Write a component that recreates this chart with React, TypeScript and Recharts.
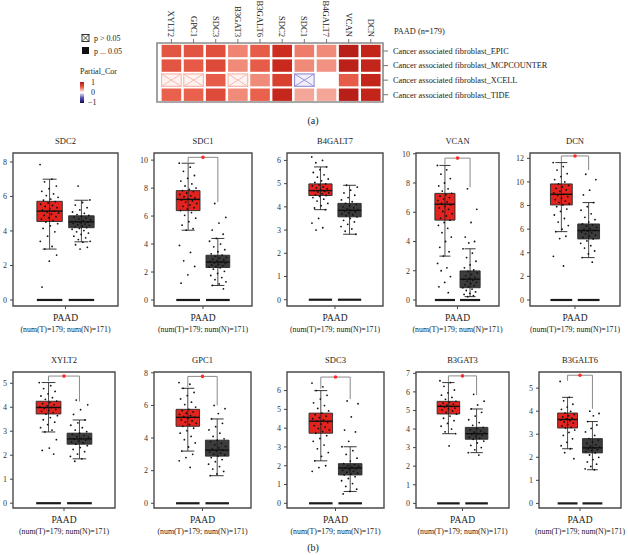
import {
  ComposedChart,
  ScatterChart,
  Scatter,
  XAxis,
  YAxis,
  ReferenceArea,
  ReferenceLine,
  ReferenceDot,
} from "recharts";

const FONT = '"Liberation Serif", "Times New Roman", serif';

// ---------- (a) partial correlation heatmap ----------
const hmGenes = ["XYLT2", "GPC1", "SDC3", "B3GAT3", "B3GALT6", "SDC2", "SDC1", "B4GALT7", "VCAN", "DCN"];
const hmRows = [
  "Cancer associated fibroblast_EPIC",
  "Cancer associated fibroblast_MCPCOUNTER",
  "Cancer associated fibroblast_XCELL",
  "Cancer associated fibroblast_TIDE",
];
const corEPIC = [0.55, 0.55, 0.58, 0.4, 0.52, 0.74, 0.42, 0.38, 0.86, 0.8];
const corMCP = [0.55, 0.53, 0.6, 0.38, 0.52, 0.76, 0.38, 0.36, 0.84, 0.8];
const corXCELL = [0.12, 0.12, 0.52, 0.1, 0.38, 0.65, -0.08, 0.0, 0.52, 0.8];
const corTIDE = [0.5, 0.5, 0.6, 0.38, 0.5, 0.78, 0.3, 0.3, 0.86, 0.8];
// p > 0.05 cells (XCELL row only)
const nsXCELL = [true, true, false, true, false, false, true, false, false, false];

// ---------- (b) expression boxplots ----------
const genes = ["SDC2", "SDC1", "B4GALT7", "VCAN", "DCN", "XYLT2", "GPC1", "SDC3", "B3GAT3", "B3GALT6"];
// [lower whisker, Q1, median, Q3, upper whisker]
const tumorBox = [
  [2.95, 4.55, 5.15, 5.72, 7.0],
  [4.99, 6.39, 7.19, 7.82, 9.78],
  [3.88, 4.49, 4.7, 4.99, 5.72],
  [3.0, 5.46, 6.55, 7.29, 9.2],
  [5.79, 8.05, 8.95, 9.83, 11.64],
  [2.97, 3.72, 3.99, 4.25, 5.03],
  [3.2, 4.72, 5.27, 5.76, 7.05],
  [2.26, 3.73, 4.37, 4.8, 6.0],
  [3.75, 4.81, 5.22, 5.49, 6.5],
  [2.37, 3.27, 3.64, 3.92, 4.6],
];
const normalBox = [
  [3.37, 4.19, 4.53, 4.88, 5.78],
  [1.04, 2.32, 2.71, 3.2, 4.4],
  [2.82, 3.57, 3.85, 4.15, 4.93],
  [0.23, 0.84, 1.42, 1.99, 3.5],
  [3.59, 5.17, 5.88, 6.44, 8.25],
  [1.85, 2.46, 2.68, 2.92, 3.47],
  [1.69, 2.89, 3.26, 3.87, 5.17],
  [0.63, 1.51, 1.88, 2.11, 3.01],
  [2.73, 3.45, 3.75, 4.09, 5.08],
  [1.46, 2.19, 2.41, 2.81, 3.55],
];
const yTicks = [
  [0, 2, 4, 6, 8],
  [0, 2, 4, 6, 8, 10],
  [0, 1, 2, 3, 4, 5, 6],
  [0, 2, 4, 6, 8, 10],
  [0, 2, 4, 6, 8, 10, 12],
  [0, 1, 2, 3, 4, 5],
  [0, 2, 4, 6, 8],
  [0, 1, 2, 3, 4, 5, 6],
  [0, 1, 2, 3, 4, 5, 6, 7],
  [0, 1, 2, 3, 4, 5],
];
// significance bracket: [bar level, tumor leg end, normal leg end]
const sigBracket: (number[] | null)[] = [
  null,
  [10.2, 9.85, 7.0],
  null,
  [9.7, 9.25, 7.7],
  [12.2, 11.7, 11.0],
  [5.3, 5.08, 4.24],
  [7.78, 7.1, 6.0],
  [6.72, 6.1, 5.55],
  [6.86, 6.55, 5.83],
  [5.56, 5.32, 4.1],
];
const tumorDots = [
  [7.85, 7.0, 6.85, 6.6, 6.45, 6.3, 6.15, 6.05, 5.95, 5.85, 5.78, 5.7, 5.62, 5.55, 5.48, 5.42, 5.35, 5.28, 5.2, 5.15, 5.1, 5.03, 4.97, 4.9, 4.83, 4.76, 4.68, 4.6, 4.52, 4.42, 4.3, 4.15, 3.95, 3.7, 3.4, 3.1, 2.95, 2.6, 2.25, 0.75],
  [9.78, 9.5, 9.2, 8.9, 8.7, 8.5, 8.3, 8.15, 8.0, 7.9, 7.82, 7.75, 7.65, 7.55, 7.45, 7.38, 7.3, 7.22, 7.15, 7.08, 7.0, 6.9, 6.8, 6.7, 6.6, 6.5, 6.4, 6.25, 6.05, 5.85, 5.6, 5.35, 5.1, 4.99, 3.9, 3.4, 2.8, 2.4, 1.8, 1.2],
  [6.15, 6.0, 5.9, 5.72, 5.6, 5.48, 5.38, 5.28, 5.2, 5.12, 5.05, 4.99, 4.95, 4.9, 4.86, 4.82, 4.78, 4.74, 4.7, 4.67, 4.64, 4.6, 4.56, 4.52, 4.49, 4.45, 4.4, 4.33, 4.25, 4.15, 4.05, 3.95, 3.88, 3.5, 3.3, 3.1, 3.0],
  [9.2, 8.9, 8.6, 8.3, 8.0, 7.8, 7.6, 7.45, 7.29, 7.2, 7.1, 7.0, 6.9, 6.8, 6.7, 6.6, 6.5, 6.4, 6.3, 6.2, 6.05, 5.9, 5.75, 5.6, 5.46, 5.3, 5.1, 4.9, 4.6, 4.3, 4.0, 3.6, 3.3, 3.0, 2.5, 2.2, 2.0, 1.6, 1.2, 0.9, 0.5],
  [11.64, 11.3, 11.0, 10.7, 10.45, 10.2, 10.0, 9.83, 9.7, 9.58, 9.45, 9.32, 9.2, 9.08, 8.95, 8.85, 8.75, 8.62, 8.5, 8.38, 8.25, 8.15, 8.05, 7.9, 7.7, 7.5, 7.2, 6.9, 6.6, 6.3, 6.0, 5.79, 5.4, 5.2, 3.7, 2.88],
  [5.03, 4.9, 4.78, 4.66, 4.56, 4.47, 4.4, 4.33, 4.25, 4.2, 4.15, 4.1, 4.06, 4.02, 3.99, 3.95, 3.91, 3.87, 3.83, 3.78, 3.72, 3.65, 3.57, 3.48, 3.38, 3.28, 3.15, 3.05, 2.97, 2.65, 2.3, 2.2, 2.05],
  [7.4, 7.3, 7.05, 6.8, 6.6, 6.4, 6.2, 6.05, 5.9, 5.76, 5.68, 5.6, 5.52, 5.45, 5.38, 5.32, 5.27, 5.2, 5.12, 5.05, 4.98, 4.9, 4.82, 4.72, 4.6, 4.45, 4.3, 4.1, 3.9, 3.7, 3.45, 3.2, 3.0, 2.8, 2.6, 2.2],
  [6.4, 6.2, 6.0, 5.75, 5.55, 5.35, 5.2, 5.05, 4.92, 4.8, 4.72, 4.64, 4.56, 4.5, 4.43, 4.37, 4.3, 4.22, 4.14, 4.06, 3.98, 3.9, 3.82, 3.73, 3.6, 3.45, 3.3, 3.1, 2.9, 2.7, 2.5, 2.26, 2.0, 1.9, 1.7],
  [6.6, 6.5, 6.3, 6.1, 5.95, 5.82, 5.7, 5.6, 5.49, 5.44, 5.39, 5.34, 5.29, 5.25, 5.22, 5.18, 5.13, 5.08, 5.03, 4.97, 4.9, 4.81, 4.7, 4.58, 4.45, 4.3, 4.15, 4.0, 3.85, 3.75, 3.09],
  [5.29, 4.6, 4.45, 4.3, 4.18, 4.08, 3.99, 3.92, 3.86, 3.8, 3.75, 3.7, 3.66, 3.62, 3.58, 3.53, 3.48, 3.42, 3.36, 3.3, 3.27, 3.18, 3.08, 2.95, 2.8, 2.65, 2.5, 2.37, 2.2, 1.94],
];
const normalDots = [
  [6.6, 5.8, 5.65, 5.5, 5.35, 5.22, 5.1, 5.02, 4.95, 4.9, 4.85, 4.8, 4.75, 4.7, 4.65, 4.6, 4.56, 4.52, 4.48, 4.44, 4.4, 4.36, 4.32, 4.28, 4.24, 4.2, 4.15, 4.1, 4.02, 3.95, 3.88, 3.8, 3.7, 3.6, 3.5, 3.4, 3.35, 3.2, 3.05, 2.95],
  [6.9, 5.9, 5.5, 5.0, 4.7, 4.4, 4.2, 4.0, 3.8, 3.6, 3.45, 3.3, 3.2, 3.12, 3.05, 2.98, 2.92, 2.86, 2.8, 2.75, 2.7, 2.65, 2.6, 2.55, 2.5, 2.45, 2.4, 2.35, 2.3, 2.2, 2.05, 1.9, 1.75, 1.6, 1.45, 1.3, 1.15, 1.04, 0.8],
  [4.93, 4.85, 4.72, 4.6, 4.5, 4.4, 4.3, 4.22, 4.15, 4.1, 4.05, 4.0, 3.96, 3.92, 3.88, 3.85, 3.82, 3.78, 3.74, 3.7, 3.66, 3.62, 3.57, 3.5, 3.42, 3.35, 3.25, 3.15, 3.05, 2.95, 2.82],
  [7.6, 6.2, 5.3, 4.3, 4.0, 3.9, 3.5, 3.2, 2.9, 2.65, 2.4, 2.2, 2.05, 1.95, 1.85, 1.75, 1.65, 1.55, 1.48, 1.42, 1.35, 1.28, 1.2, 1.12, 1.05, 0.98, 0.9, 0.84, 0.75, 0.65, 0.55, 0.45, 0.38, 0.3, 0.23],
  [10.65, 10.2, 9.3, 8.9, 8.25, 7.9, 7.6, 7.3, 7.0, 6.8, 6.6, 6.44, 6.35, 6.25, 6.15, 6.05, 5.97, 5.9, 5.83, 5.76, 5.68, 5.6, 5.5, 5.4, 5.3, 5.17, 5.0, 4.8, 4.6, 4.4, 4.15, 3.9, 3.59, 3.2],
  [4.3, 4.1, 3.9, 3.7, 3.47, 3.35, 3.25, 3.15, 3.05, 2.98, 2.92, 2.87, 2.82, 2.78, 2.74, 2.7, 2.67, 2.63, 2.59, 2.55, 2.51, 2.46, 2.4, 2.32, 2.24, 2.15, 2.05, 1.95, 1.85, 1.75],
  [6.0, 5.8, 5.5, 5.17, 4.9, 4.7, 4.5, 4.3, 4.1, 3.95, 3.87, 3.78, 3.68, 3.58, 3.48, 3.4, 3.33, 3.26, 3.2, 3.14, 3.08, 3.02, 2.96, 2.89, 2.8, 2.68, 2.55, 2.4, 2.25, 2.1, 1.95, 1.8, 1.69],
  [5.45, 5.3, 4.6, 3.9, 3.8, 3.3, 3.01, 2.8, 2.6, 2.4, 2.25, 2.11, 2.06, 2.01, 1.97, 1.93, 1.88, 1.84, 1.8, 1.75, 1.7, 1.65, 1.6, 1.55, 1.51, 1.42, 1.32, 1.2, 1.05, 0.9, 0.75, 0.63, 0.5],
  [5.87, 5.5, 5.3, 5.08, 4.9, 4.7, 4.5, 4.35, 4.2, 4.09, 4.02, 3.95, 3.89, 3.83, 3.78, 3.75, 3.71, 3.66, 3.61, 3.56, 3.5, 3.45, 3.35, 3.25, 3.12, 3.0, 2.88, 2.73, 2.6],
  [4.0, 3.9, 3.8, 3.55, 3.4, 3.25, 3.1, 2.95, 2.81, 2.74, 2.67, 2.6, 2.54, 2.48, 2.44, 2.41, 2.37, 2.33, 2.29, 2.25, 2.19, 2.1, 2.0, 1.9, 1.8, 1.7, 1.6, 1.5, 1.46],
];

// plot-frame placement of each panel on the page, and its y range
const frames = [
  { x: 13, y: 153, w: 105, h: 153, lo: -0.35, hi: 8.52 },
  { x: 154, y: 153, w: 98, h: 153, lo: -0.43, hi: 10.51 },
  { x: 287, y: 153, w: 96, h: 153, lo: -0.27, hi: 6.32 },
  { x: 416, y: 153, w: 83, h: 153, lo: -0.41, hi: 10.05 },
  { x: 530, y: 153, w: 90, h: 153, lo: -0.51, hi: 12.45 },
  { x: 13, y: 372, w: 102, h: 136, lo: -0.2, hi: 5.47 },
  { x: 154, y: 372, w: 97, h: 136, lo: -0.29, hi: 8.05 },
  { x: 287, y: 372, w: 97, h: 136, lo: -0.25, hi: 6.99 },
  { x: 416, y: 372, w: 93, h: 136, lo: -0.25, hi: 7.07 },
  { x: 539, y: 372, w: 82, h: 136, lo: -0.2, hi: 5.7 },
];

const X_DOMAIN: [number, number] = [-0.15, 3.15];
const HALF = 0.4;
const jitter = (k: number) => (((k * 0.618034) % 1) - 0.5) * 0.6;

function corColor(v: number) {
  const pos: [number, number[]][] = [
    [0, [255, 255, 255]],
    [0.25, [247, 185, 172]],
    [0.5, [233, 96, 76]],
    [0.75, [204, 42, 30]],
    [1, [158, 16, 16]],
  ];
  const neg: [number, number[]][] = [
    [0, [255, 255, 255]],
    [0.5, [120, 120, 200]],
    [1, [20, 10, 90]],
  ];
  const stops = v >= 0 ? pos : neg;
  const a = Math.min(1, Math.abs(v));
  for (let i = 1; i < stops.length; i++) {
    if (a <= stops[i][0]) {
      const [t0, c0] = stops[i - 1];
      const [t1, c1] = stops[i];
      const f = (a - t0) / (t1 - t0);
      const c = c0.map((x, j) => Math.round(x + (c1[j] - x) * f));
      return `rgb(${c[0]},${c[1]},${c[2]})`;
    }
  }
  return "rgb(158,16,16)";
}

function HeatCell(p: any) {
  const { cx, cy, payload } = p;
  const w = 19.6;
  const h = 12.4;
  const x = cx - w / 2;
  const y = cy - h / 2;
  if (payload.ns) {
    const neg = payload.v < 0;
    const stroke = neg ? "#9a93d8" : "#f6b9ae";
    return (
      <g>
        <rect x={x} y={y} width={w} height={h} fill={neg ? "#f1f0fb" : "#fff3f1"} stroke={stroke} strokeWidth={1.2} />
        <line x1={x} y1={y} x2={x + w} y2={y + h} stroke={stroke} strokeWidth={1} />
        <line x1={x} y1={y + h} x2={x + w} y2={y} stroke={stroke} strokeWidth={1} />
      </g>
    );
  }
  return <rect x={x} y={y} width={w} height={h} fill={corColor(payload.v)} />;
}

function Heatmap() {
  const rows = [corEPIC, corMCP, corXCELL, corTIDE];
  const cells = rows.flatMap((vals, r) =>
    vals.map((v, c) => ({ x: c, y: r, v, ns: r === 2 && nsXCELL[c] }))
  );
  return (
    <div style={{ position: "absolute", left: 120, top: 0 }}>
      <ScatterChart width={503} height={104} margin={{ top: 0, right: 0, bottom: 2, left: 37 }}>
        <XAxis
          type="number"
          dataKey="x"
          orientation="top"
          domain={[-0.65, 9.55]}
          ticks={[0, 1, 2, 3, 4, 5, 6, 7, 8, 9]}
          interval={0}
          allowDataOverflow
          height={43}
          axisLine={false}
          tickSize={4}
          tickMargin={2}
          tickLine={{ stroke: "#777" }}
          tick={(t: any) => (
            <text
              transform={`translate(${t.x},${t.y}) rotate(90)`}
              textAnchor="end"
              dy="0.35em"
              fontSize={8.6}
              fontFamily={FONT}
              fill="#222"
            >
              {hmGenes[t.payload.value]}
            </text>
          )}
        />
        <YAxis
          type="number"
          dataKey="y"
          orientation="right"
          reversed
          domain={[-0.55, 3.5]}
          ticks={[0, 1, 2, 3]}
          interval={0}
          allowDataOverflow
          width={240}
          axisLine={false}
          tickSize={5}
          tickMargin={5}
          tickLine={{ stroke: "#777" }}
          tick={(t: any) => (
            <text x={t.x} y={t.y} dy="0.35em" textAnchor="start" fontSize={8.3} fontFamily={FONT} fill="#222">
              {hmRows[t.payload.value]}
            </text>
          )}
        />
        <ReferenceArea x1={-0.65} x2={9.55} y1={-0.55} y2={3.5} fill="none" stroke="#8a8a8a" strokeWidth={1.6} />
        <Scatter data={cells} shape={HeatCell} isAnimationActive={false} />
      </ScatterChart>
    </div>
  );
}

function HeatLegend() {
  return (
    <div style={{ position: "absolute", left: 0, top: 0, width: 150, height: 110 }}>
      <svg width={150} height={110} style={{ fontFamily: FONT }}>
        <rect x={82} y={34.5} width={7} height={7} fill="#fff" stroke="#222" strokeWidth={0.9} />
        <line x1={82} y1={34.5} x2={89} y2={41.5} stroke="#222" strokeWidth={0.8} />
        <line x1={82} y1={41.5} x2={89} y2={34.5} stroke="#222" strokeWidth={0.8} />
        <text x={94} y={41} fontSize={8} fill="#222">p &gt; 0.05</text>
        <rect x={82} y={47} width={7} height={7} fill="#111" />
        <text x={94} y={53.5} fontSize={8} fill="#222">p ... 0.05</text>
        <text x={80} y={74} fontSize={8} fill="#222">Partial_Cor</text>
        <defs>
          <linearGradient id="corBar" x1="0" y1="0" x2="0" y2="1">
            <stop offset="0" stopColor="#b2151a" />
            <stop offset="0.25" stopColor="#e9604c" />
            <stop offset="0.5" stopColor="#ffffff" />
            <stop offset="0.75" stopColor="#5a52b0" />
            <stop offset="1" stopColor="#150a5a" />
          </linearGradient>
        </defs>
        <rect x={80} y={82} width={4} height={21} fill="url(#corBar)" />
        <text x={91} y={85} fontSize={8} fill="#222">1</text>
        <text x={91} y={95} fontSize={8} fill="#222">0</text>
        <text x={88} y={105} fontSize={8} fill="#222">−1</text>
      </svg>
    </div>
  );
}

function PaadTick(p: any) {
  return (
    <g>
      <text x={p.x} y={p.y + 10} textAnchor="middle" fontSize={9.5} fontFamily={FONT} fill="#222">
        PAAD
      </text>
      <text x={p.x} y={p.y + 21} textAnchor="middle" fontSize={7.8} fontFamily={FONT} fill="#222">
        (num(T)=179; num(N)=171)
      </text>
    </g>
  );
}

function BoxPanel({ i }: { i: number }) {
  const f = frames[i];
  const YW = 26; // y axis width
  const PAD = 16; // room for the wide x label
  const MT = 2;
  const MB = 30;
  const groups: [number, number[], string][] = [
    [1, tumorBox[i], "#e2231e"],
    [2, normalBox[i], "#3c3c3c"],
  ];
  const dots = [
    ...tumorDots[i].map((v, k) => ({ x: 1 + jitter(k), y: v })),
    ...normalDots[i].map((v, k) => ({ x: 2 + jitter(k + 7), y: v })),
  ];
  const br = sigBracket[i];
  return (
    <>
      <div
        style={{
          position: "absolute",
          left: f.x,
          top: f.y - 17,
          width: f.w,
          textAlign: "center",
          fontSize: 8.5,
          lineHeight: "10px",
          color: "#222",
          fontFamily: FONT,
        }}
      >
        {genes[i]}
      </div>
      <div style={{ position: "absolute", left: f.x - YW - PAD, top: f.y - MT }}>
        <ComposedChart
          width={f.w + YW + PAD * 2}
          height={f.h + MT + MB}
          margin={{ top: MT, right: PAD, bottom: 0, left: PAD }}
        >
          <XAxis
            type="number"
            dataKey="x"
            domain={X_DOMAIN}
            allowDataOverflow
            ticks={[1.5]}
            interval={0}
            height={MB}
            axisLine={false}
            tickSize={3}
            tickMargin={2}
            tickLine={{ stroke: "#444" }}
            tick={(t: any) => <PaadTick {...t} />}
          />
          <YAxis
            type="number"
            dataKey="y"
            domain={[f.lo, f.hi]}
            allowDataOverflow
            ticks={yTicks[i]}
            interval={0}
            width={YW}
            axisLine={false}
            tickSize={3}
            tickMargin={3}
            tickLine={{ stroke: "#444" }}
            tick={{ fontSize: 8, fill: "#333", fontFamily: FONT }}
          />
          <ReferenceArea
            x1={X_DOMAIN[0]}
            x2={X_DOMAIN[1]}
            y1={f.lo}
            y2={f.hi}
            fill="none"
            stroke="#4a4a4a"
            strokeWidth={1.4}
          />
          {groups.map(([c, s, col]) => (
            <g key={`g${c}`}>
              <ReferenceLine segment={[{ x: c, y: s[0] }, { x: c, y: s[4] }]} stroke="#222" strokeWidth={0.8} />
              <ReferenceLine segment={[{ x: c - 0.22, y: s[0] }, { x: c + 0.22, y: s[0] }]} stroke="#222" strokeWidth={0.9} />
              <ReferenceLine segment={[{ x: c - 0.22, y: s[4] }, { x: c + 0.22, y: s[4] }]} stroke="#222" strokeWidth={0.9} />
              <ReferenceArea
                x1={c - HALF}
                x2={c + HALF}
                y1={s[1]}
                y2={s[3]}
                fill={col}
                fillOpacity={1}
                stroke="#2a2a2a"
                strokeWidth={0.9}
              />
              <ReferenceLine segment={[{ x: c - HALF, y: s[2] }, { x: c + HALF, y: s[2] }]} stroke="#111" strokeWidth={1.4} />
              <ReferenceLine segment={[{ x: c - HALF, y: 0 }, { x: c + HALF, y: 0 }]} stroke="#1a1a1a" strokeWidth={2.2} />
            </g>
          ))}
          {br && (
            <g>
              <ReferenceLine segment={[{ x: 1, y: br[0] }, { x: 2, y: br[0] }]} stroke="#8a8a8a" strokeWidth={1} />
              <ReferenceLine segment={[{ x: 1, y: br[0] }, { x: 1, y: br[1] }]} stroke="#8a8a8a" strokeWidth={1} />
              <ReferenceLine segment={[{ x: 2, y: br[0] }, { x: 2, y: br[2] }]} stroke="#8a8a8a" strokeWidth={1} />
              <ReferenceDot x={1.5} y={br[0]} r={1.8} fill="#ff2a2a" stroke="none" />
            </g>
          )}
          <Scatter
            data={dots}
            isAnimationActive={false}
            shape={(p: any) => <circle cx={p.cx} cy={p.cy} r={0.9} fill="#111" />}
          />
        </ComposedChart>
      </div>
    </>
  );
}

export default function App() {
  return (
    <div
      style={{
        position: "absolute",
        left: 0,
        top: 0,
        width: 628,
        height: 555,
        background: "#fff",
        overflow: "hidden",
        fontFamily: FONT,
      }}
    >
      <HeatLegend />
      <Heatmap />
      <div style={{ position: "absolute", left: 394, top: 27, fontSize: 8.3, color: "#222" }}>PAAD (n=179)</div>
      <div style={{ position: "absolute", left: 300, top: 115, width: 26, textAlign: "center", fontSize: 10, color: "#222" }}>
        (a)
      </div>
      {genes.map((g, i) => (
        <BoxPanel key={g} i={i} />
      ))}
      <div style={{ position: "absolute", left: 300, top: 542, width: 26, textAlign: "center", fontSize: 10, color: "#222" }}>
        (b)
      </div>
    </div>
  );
}
